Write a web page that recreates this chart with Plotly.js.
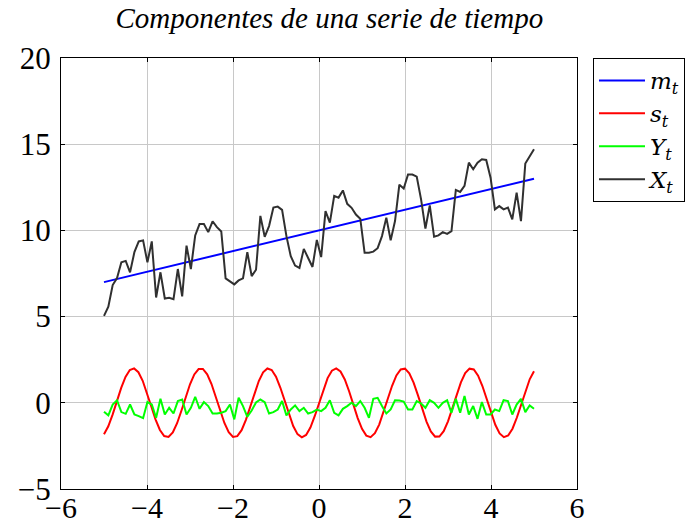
<!DOCTYPE html>
<html>
<head>
<meta charset="utf-8">
<script src="https://cdn.plot.ly/plotly-3.0.1.min.js"></script>
<style>html,body{margin:0;padding:0;background:#fff;}</style>
</head>
<body>
<div id="chart" style="width:697px;height:526px;"></div>
<script>
// grid for the smooth seasonal curve
const sX = [-5.0,-4.9,-4.8,-4.7,-4.6,-4.5,-4.4,-4.3,-4.2,-4.1,-4.0,-3.9,-3.8,-3.7,-3.6,-3.5,-3.4,-3.3,-3.2,-3.1,-3.0,-2.9,-2.8,-2.7,-2.6,-2.5,-2.4,-2.3,-2.2,-2.1,-2.0,-1.9,-1.8,-1.7,-1.6,-1.5,-1.4,-1.3,-1.2,-1.1,-1.0,-0.9,-0.8,-0.7,-0.6,-0.5,-0.4,-0.3,-0.2,-0.1,0.0,0.1,0.2,0.3,0.4,0.5,0.6,0.7,0.8,0.9,1.0,1.1,1.2,1.3,1.4,1.5,1.6,1.7,1.8,1.9,2.0,2.1,2.2,2.3,2.4,2.5,2.6,2.7,2.8,2.9,3.0,3.1,3.2,3.3,3.4,3.5,3.6,3.7,3.8,3.9,4.0,4.1,4.2,4.3,4.4,4.5,4.6,4.7,4.8,4.9,5.0];
const sT = [-1.826,-1.364,-0.687,0.099,0.869,1.502,1.898,1.994,1.775,1.276,0.576,-0.216,-0.973,-1.577,-1.931,-1.981,-1.718,-1.184,-0.463,0.331,1.073,1.646,1.958,1.962,1.656,1.088,0.349,-0.446,-1.170,-1.709,-1.979,-1.936,-1.588,-0.988,-0.233,0.559,1.263,1.767,1.992,1.902,1.514,0.885,0.117,-0.670,-1.351,-1.819,-1.999,-1.864,-1.435,-0.779,0.000,0.779,1.435,1.864,1.999,1.819,1.351,0.670,-0.117,-0.885,-1.514,-1.902,-1.992,-1.767,-1.263,-0.559,0.233,0.988,1.588,1.936,1.979,1.709,1.170,0.446,-0.349,-1.088,-1.656,-1.962,-1.958,-1.646,-1.073,-0.331,0.463,1.184,1.718,1.981,1.931,1.577,0.973,0.216,-0.576,-1.276,-1.775,-1.994,-1.898,-1.502,-0.869,-0.099,0.687,1.364,1.826];

// trend
const mX = [-5, 5];
const mT = [7, 13];

// grid of the noisy series (100 samples from -5 to 5)
const nX = [-5.0000,-4.8990,-4.7980,-4.6970,-4.5960,-4.4949,-4.3939,-4.2929,-4.1919,-4.0909,-3.9899,-3.8889,-3.7879,-3.6869,-3.5859,-3.4848,-3.3838,-3.2828,-3.1818,-3.0808,-2.9798,-2.8788,-2.7778,-2.6768,-2.5758,-2.4747,-2.3737,-2.2727,-2.1717,-2.0707,-1.9697,-1.8687,-1.7677,-1.6667,-1.5657,-1.4646,-1.3636,-1.2626,-1.1616,-1.0606,-0.9596,-0.8586,-0.7576,-0.6566,-0.5556,-0.4545,-0.3535,-0.2525,-0.1515,-0.0505,0.0505,0.1515,0.2525,0.3535,0.4545,0.5556,0.6566,0.7576,0.8586,0.9596,1.0606,1.1616,1.2626,1.3636,1.4646,1.5657,1.6667,1.7677,1.8687,1.9697,2.0707,2.1717,2.2727,2.3737,2.4747,2.5758,2.6768,2.7778,2.8788,2.9798,3.0808,3.1818,3.2828,3.3838,3.4848,3.5859,3.6869,3.7879,3.8889,3.9899,4.0909,4.1919,4.2929,4.3939,4.4949,4.5960,4.6970,4.7980,4.8990,5.0000];

const yT = [-0.52,-0.73,-0.10,0.15,-0.54,-0.64,-0.10,-0.68,-0.77,-0.89,0.04,-0.10,-0.87,0.23,-0.68,-0.29,-0.62,0.10,0.19,-0.68,-0.29,0.35,-0.35,0.04,-0.19,-0.62,-0.62,-0.58,-0.48,-0.10,-0.96,0.29,-0.19,-0.81,-0.45,0.02,0.19,0.04,-0.62,-0.54,-0.39,0.10,-0.73,-0.39,-0.15,-0.48,-0.29,-0.62,-0.54,-0.39,-0.48,-0.29,0.15,-0.58,-0.73,-0.35,-0.19,0.00,-0.19,0.10,-0.29,-0.87,0.23,0.29,-0.19,-0.62,-0.39,0.15,0.13,0.07,-0.39,-0.39,0.10,-0.04,-0.29,0.15,0.00,-0.29,0.00,0.15,-0.58,0.23,-0.58,0.39,-0.68,-0.19,-0.93,0.04,-0.68,-0.68,-0.39,-0.48,0.15,0.10,-0.68,-0.10,0.23,-0.54,-0.15,-0.35];

const xT = [5.04,5.58,6.83,7.24,8.15,8.23,7.57,8.74,9.36,9.42,8.15,9.36,6.11,7.57,6.05,6.09,6.01,7.76,6.17,9.12,7.76,9.71,10.37,10.37,9.90,10.53,10.19,9.94,7.22,7.02,6.87,7.10,7.22,8.74,7.35,7.72,10.84,9.63,10.25,11.32,11.38,11.19,9.67,8.50,7.96,7.82,8.93,8.40,7.88,9.45,8.45,11.12,10.45,12.00,11.90,12.32,11.54,11.31,10.92,10.68,8.70,8.70,8.77,8.97,9.67,10.74,9.42,10.54,12.65,12.43,13.24,13.24,13.12,11.80,10.10,11.45,9.63,9.71,9.90,9.80,9.96,12.35,12.23,12.58,13.93,13.55,13.93,14.13,14.09,13.06,11.22,11.41,11.22,11.32,10.64,12.19,10.54,13.88,14.28,14.71];

const names = ['<i>m</i><sub><i>t</i></sub>','<i>s</i><sub><i>t</i></sub>','<i>Y</i><sub><i>t</i></sub>','<i>X</i><sub><i>t</i></sub>'];
const colors = ['#0000ff','#ff0000','#00ff00','#303030'];
const titleText = '<i>Componentes de una serie de tiempo</i>';

const FONT = 'Liberation Serif, DejaVu Serif, serif';
const LEGFONT = 'DejaVu Serif, Liberation Serif, serif';

const traces = [
  {x: mX, y: mT, name: names[0], mode:'lines', line:{color:colors[0], width:2}},
  {x: sX, y: sT, name: names[1], mode:'lines', line:{color:colors[1], width:2}},
  {x: nX, y: yT, name: names[2], mode:'lines', line:{color:colors[2], width:2}},
  {x: nX, y: xT, name: names[3], mode:'lines', line:{color:colors[3], width:2}}
];

const axisCommon = {
  showgrid:true, gridcolor:'#c8c8c8', gridwidth:1,
  showline:true, mirror:'ticks', linecolor:'#000', linewidth:1,
  ticks:'inside', ticklen:4, tickcolor:'#000',
  zeroline:false,
  tickfont:{family:FONT, size:31, color:'#000'}
};

const layout = {
  width:697, height:526,
  margin:{l:61, r:118, t:58, b:37},
  paper_bgcolor:'#fff', plot_bgcolor:'#fff',
  title:{text:titleText, font:{family:FONT, size:29, color:'#000'},
         x:0.52, xref:'paper', xanchor:'center', y:1-18/526, yref:'container', yanchor:'middle'},
  xaxis:Object.assign({}, axisCommon, {range:[-6,6], tick0:-6, dtick:2, ticklabelstandoff:-8,
          tickfont:{family:FONT, size:30, color:'#000'}}),
  yaxis:Object.assign({}, axisCommon, {range:[-5,20], tick0:-5, dtick:5, ticklabelstandoff:3}),
  showlegend:true,
  legend:{x:1.031, y:1, xanchor:'left', yanchor:'top', bgcolor:'#fff', bordercolor:'#000', borderwidth:1,
          font:{family:LEGFONT, size:23, color:'#000'}, tracegroupgap:0, itemwidth:46}
};

Plotly.newPlot('chart', traces, layout, {displayModeBar:false, staticPlot:true});
</script>
</body>
</html>
